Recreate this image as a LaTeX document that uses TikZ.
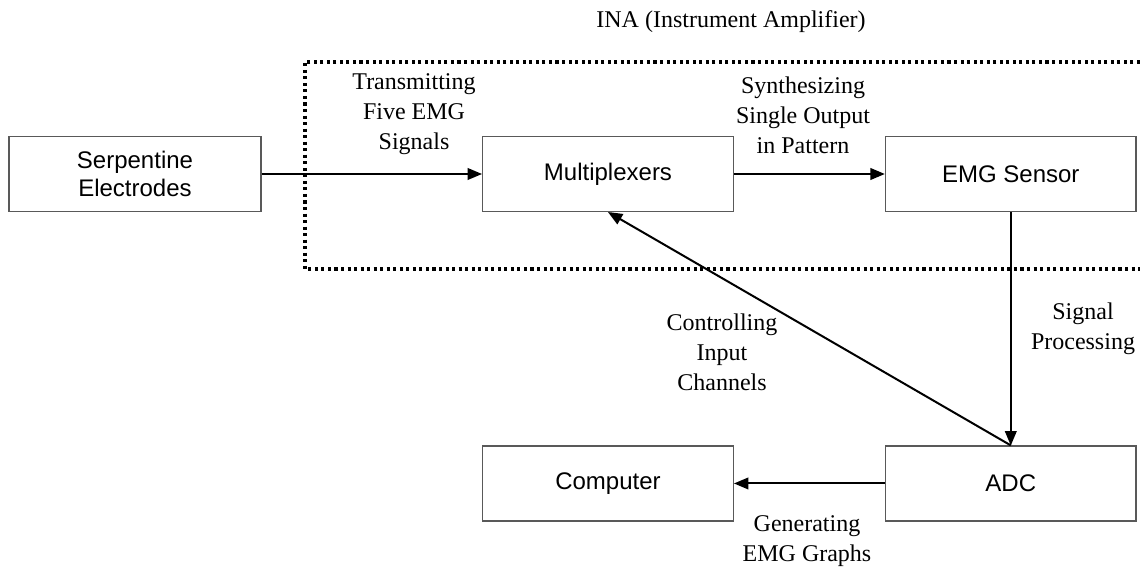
\documentclass[tikz,border=0pt]{standalone}
\usepackage{fontspec}
\setmainfont{Liberation Serif}
\newfontfamily\blockfont{Liberation Sans}
\usetikzlibrary{arrows}
\usetikzlibrary{positioning}
\tikzstyle{block} = [rectangle, draw=black!65, line width=1.1pt, minimum width=188pt,
minimum height=56pt, inner sep=2pt, align=center, font=\blockfont\fontsize{18}{21}\selectfont]
\tikzstyle{remark} = [align=center, inner sep=0pt, font=\fontsize{18}{22.5}\selectfont]
\tikzstyle{flow} = [->, line width=1.5pt]
\tikzstyle{ina} = [line width=2.3pt, dash pattern=on 2.3pt off 2.6pt]
\tikzset{>={triangle 45}}

\begin{document}
\begin{tikzpicture}[x=0.75pt, y=-0.75pt]
  \useasboundingbox (0,0) rectangle (1140,570);

  \node[block, minimum width=189pt] (se) at (135,174) {Serpentine\\Electrodes};
  \node[block] (mux) at (608,174) {Multiplexers};
  \node[block, right=113pt of mux] (sensor) {EMG Sensor};
  \node[block, below=175pt of sensor] (adc) {ADC};
  \node[block, left=113pt of adc] (comp) {Computer};

  % dotted INA frame, open to the right
  \draw[ina] (1140,62) -- (305,62) -- (305,269) -- (1140,269);
  \node[remark] (ina) at (731,22) {INA (Instrument Amplifier)};

  \draw[flow] (se) -- (mux);
  \draw[flow] (mux) -- (sensor);
  \draw[flow] (sensor) -- (adc);
  \draw[flow] (adc.north) -- (mux.south);
  \draw[flow] (adc) -- (comp);

  \node[remark] (transmit) at (414,114) {Transmitting\\Five EMG\\Signals};
  \node[remark] (synth) at (803,115) {Synthesizing\\Single Output\\in Pattern};
  \node[remark] (sigproc) at (1083,329) {Signal\\Processing};
  \node[remark] (ctrl) at (722,352) {Controlling\\Input\\Channels};
  \node[remark] (graphs) at (807,541) {Generating\\EMG Graphs};
\end{tikzpicture}
\end{document}
